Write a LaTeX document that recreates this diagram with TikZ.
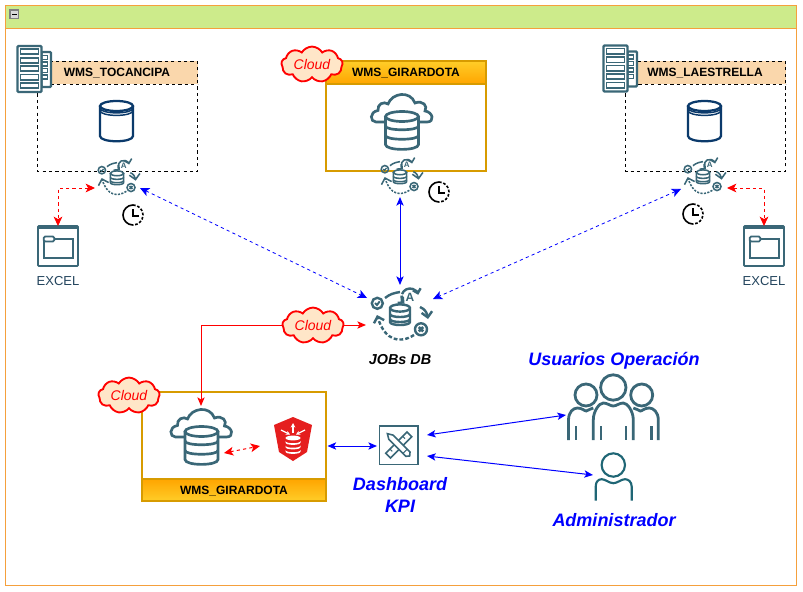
\documentclass[tikz,border=0pt]{standalone}
\usepackage{fontspec}
\setmainfont{Liberation Sans}
\usetikzlibrary{arrows.meta,shapes.symbols,calc}
\definecolor{panelline}{HTML}{F5A03C}
\definecolor{panelhead}{HTML}{CDEB8B}
\definecolor{headpeach}{HTML}{FAD7AC}
\definecolor{goldline}{HTML}{D79B00}
\definecolor{goldtop}{HTML}{FFCD28}
\definecolor{goldbot}{HTML}{FFA500}
\definecolor{cloudfill}{HTML}{FFE6C8}
\definecolor{icon}{HTML}{3A6777}
\definecolor{navy}{HTML}{0B3A6B}
\definecolor{teal2}{HTML}{1F6675}
\definecolor{excelblue}{HTML}{23445D}
\definecolor{shield}{HTML}{E51E1E}
\tikzset{
  every node/.append style={inner sep=0pt},
  reddash/.style={draw=red,line width=.75pt,dash pattern=on 2.4pt off 2.4pt,{Stealth[length=7pt,width=6.5pt,inset=1.8pt]}-{Stealth[length=7pt,width=6.5pt,inset=1.8pt]}},
  bluedash/.style={draw=blue,line width=.6pt,dash pattern=on 2.4pt off 2.4pt,{Stealth[length=7pt,width=6.5pt,inset=1.8pt]}-{Stealth[length=7pt,width=6.5pt,inset=1.8pt]}},
  bluesolid/.style={draw=blue,line width=.75pt,{Stealth[length=6.5pt,width=5.5pt,inset=1.6pt]}-{Stealth[length=6.5pt,width=5.5pt,inset=1.6pt]}},
  redsolid/.style={draw=red,line width=.75pt,{Stealth[length=6.5pt,width=5.5pt,inset=1.6pt]}-{Stealth[length=6.5pt,width=5.5pt,inset=1.6pt]}},
  dashbox/.style={draw=black,line width=.75pt,dash pattern=on 2.4pt off 2.4pt},
  goldbox/.style={draw=goldline,line width=1.5pt},
  title/.style={font=\bfseries\fontsize{9pt}{10pt}\selectfont,text=black},
  bluetitle/.style={font=\bfseries\itshape\fontsize{13.5pt}{16.5pt}\selectfont,text=blue,align=center},
  cloudnote/.style={cloud,cloud puffs=9,cloud puff arc=120,aspect=1.9,draw=red,fill=cloudfill,line width=1.4pt,minimum width=46pt,minimum height=25pt,text=red,font=\itshape\fontsize{10.5pt}{12pt}\selectfont},
  pics/jobicon/.style n args={3}{code={
    \begin{scope}[draw=icon,line width=#1,line cap=butt]
      \draw (-22.7,-11.7) circle[radius=5.5];
      \draw[line width=.8*#1] (-25,-12) -- (-23,-10) -- (-20.3,-13.6);
      \draw (21,14.3) circle[radius=6];
      \draw[line width=1.1*#1] (18.8,12.1) -- (23.2,16.5) (18.8,16.5) -- (23.2,12.1);
      \draw[-{Straight Barb[length=3pt,width=6pt]}] (10,-18) ++(200:8.5) arc[start angle=200,end angle=345,radius=8.5];
      \draw[-{Straight Barb[length=3pt,width=6pt]}] (10,-18) ++(190:8.5) arc[start angle=190,end angle=130,radius=8.5];
      \node[transform shape,text=icon,font=\bfseries\fontsize{9pt}{9pt}\selectfont] at (10,-18) {A};
      \draw (-15,-17) .. controls (-10,-21) and (-6,-22) .. (0,-23);
      \draw[-{Straight Barb[length=4pt,width=8pt]}] (20,-8) .. controls (25,-6) and (27,-2) .. (28,4);
      \draw[dash pattern=on #2 off #3,-{Straight Barb[length=4pt,width=8pt]}] (14,20) .. controls (0,29) and (-15,26) .. (-23,0);
      \draw[fill=white] (-10,-6) -- (-10,7) .. controls (-10,11) and (10,11) .. (10,7) -- (10,-6);
      \draw[fill=white] (0,-7) ellipse[x radius=10,y radius=3.6];
      \draw (-10,-1) .. controls (-10,3) and (10,3) .. (10,-1);
      \draw (-10,4) .. controls (-10,8) and (10,8) .. (10,4);
    \end{scope}
  }},
  pics/clockicon/.style={code={
    \draw[black,line width=1.2pt] (0,-10) arc[start angle=-90,end angle=-270,radius=10];
    \draw[black,line width=1.2pt,dash pattern=on 2pt off 1.3pt] (0,-10) arc[start angle=-90,end angle=90,radius=10];
    \draw[black,line width=.9pt] (0,-6) -- (0,1) -- (6,1);
  }},
  pics/servericon/.style={code={
    \begin{scope}[draw=icon,line width=1.7pt]
      \draw[fill=white,rounded corners=.8pt] (24,6) rectangle (33.5,41);
      \foreach \yy in {9.5,16,22.5,29} \draw[line width=1.2pt] (24,\yy) rectangle (30,{\yy+4});
      \draw[fill=white,rounded corners=.8pt] (0,0) rectangle (24,46);
      \foreach \yy in {3,11.7,20,28.5,37} {
        \draw[line width=1.3pt,fill=white] (3,\yy) rectangle (21,{\yy+5.2});
      }
    \end{scope}
  }},
  pics/cylicon/.style={code={
    \begin{scope}[draw=navy,line width=1.7pt]
      \draw (-16.5,-15) -- (-16.5,15) .. controls (-16.5,22) and (16.5,22) .. (16.5,15) -- (16.5,-15);
      \draw (0,-15) ellipse[x radius=16.5,y radius=5];
      \draw[line width=1.1pt] (-16.5,-13) .. controls (-16.5,-6.5) and (16.5,-6.5) .. (16.5,-13);
      \draw[line width=1.1pt] (-16.5,-10.5) .. controls (-16.5,-4) and (16.5,-4) .. (16.5,-10.5);
    \end{scope}
  }},
  pics/excelicon/.style={code={
    \begin{scope}[draw=icon,line width=1.3pt]
      \draw[rounded corners=.6pt] (0,0) rectangle (40,40);
      \fill[icon] (0,-.5) rectangle (40,3);
      \draw (5.7,13) rectangle (34.7,32);
      \draw[fill=white,rounded corners=1pt] (5.7,10.5) rectangle (16.3,15.5);
    \end{scope}
  }},
  pics/dbcloudicon/.style={code={
    \begin{scope}[draw=icon,line width=2pt]
      \draw (-17.5,1) -- (-26,1) .. controls (-32,1) and (-33,-9) .. (-24,-10.5)
        .. controls (-25,-17) and (-18,-20) .. (-14,-17)
        .. controls (-10,-28) and (8,-31) .. (13,-18)
        .. controls (21,-21) and (26,-15) .. (23,-10)
        .. controls (31,-9) and (33,1) .. (25,1) -- (17,1);
      \draw (-16.5,-4.5) -- (-16.5,23.5) .. controls (-16.5,30) and (16.5,30) .. (16.5,23.5) -- (16.5,-4.5);
      \draw (0,-4.5) ellipse[x radius=16.5,y radius=5];
      \draw (-16.5,5) .. controls (-16.5,10) and (16.5,10) .. (16.5,5);
      \draw (-16.5,14.5) .. controls (-16.5,19.5) and (16.5,19.5) .. (16.5,14.5);
    \end{scope}
  }},
  pics/shieldicon/.style={code={
    \fill[shield] (-19,-14) -- (0,-22) -- (19,-14) -- (14,13) -- (0,22) -- (-14,13) -- cycle;
    \begin{scope}[white]
      \draw[line width=1pt,-{Stealth[length=3.5pt,width=3.5pt]}] (0,-6) -- (0,-16);
      \draw[line width=.9pt,{Stealth[length=3pt,width=3pt]}-] (-3,-4.5) -- (-12,-9);
      \draw[line width=.9pt,{Stealth[length=3pt,width=3pt]}-] (3,-4.5) -- (12,-9);
      \fill (0,-1) ellipse[x radius=7.5,y radius=2.4];
      \fill (-7.5,2) .. controls (-7.5,5) and (7.5,5) .. (7.5,2) -- (7.5,3.6) .. controls (7.5,6.6) and (-7.5,6.6) .. (-7.5,3.6) -- cycle;
      \fill (-7.5,6.5) .. controls (-7.5,9.5) and (7.5,9.5) .. (7.5,6.5) -- (7.5,8.1) .. controls (7.5,11.1) and (-7.5,11.1) .. (-7.5,8.1) -- cycle;
      \fill (-7.5,11) .. controls (-7.5,14) and (7.5,14) .. (7.5,11) -- (7.5,12.6) .. controls (7.5,15.6) and (-7.5,15.6) .. (-7.5,12.6) -- cycle;
    \end{scope}
  }},
  pics/kpiicon/.style={code={
    \begin{scope}[draw=icon,line width=1.2pt]
      \draw (-19.3,-19.3) rectangle (19.3,19.3);
      \begin{scope}[rotate=45]
        \draw (-15,-3.4) rectangle (15,3.4);
        \foreach \xx in {-9,9} \draw[line width=.8pt] (\xx,-3.4) -- (\xx,0);
      \end{scope}
      \begin{scope}[rotate=-45]
        \draw[fill=white] (-11,-3) -- (13,-3) -- (15.5,0) -- (13,3) -- (-11,3) -- (-16,0) -- cycle;
        \draw[line width=.8pt] (9,-3) -- (9,3);
      \end{scope}
    \end{scope}
  }},
  pics/groupicon/.style={code={
    \begin{scope}[draw=icon,line width=2.1pt]
      \draw (0,-12.5) circle[radius=12.7];
      \draw (-27.3,-5) circle[radius=11];
      \draw (28.4,-5) circle[radius=11];
      \draw (-44.8,40) -- (-44.8,20) .. controls (-44.8,12) and (-40,8) .. (-36,8) .. controls (-31,8) and (-29,11) .. (-27,11) .. controls (-25,11) and (-23,8) .. (-20,8);
      \draw (45,40) -- (45,20) .. controls (45,12) and (40,8) .. (36,8) .. controls (31,8) and (29,11) .. (27,11) .. controls (25,11) and (23,8) .. (20,8);
      \draw (-20,40) -- (-20,20) .. controls (-20,11) and (-14,3) .. (-10,3) .. controls (-6,3) and (-3,6) .. (0,6) .. controls (3,6) and (6,3) .. (10,3) .. controls (14,3) and (20,11) .. (20,20) -- (20,40);
      \foreach \xx in {-37.3,-12.3,12.7,38.4} \draw (\xx,26) -- (\xx,40);
    \end{scope}
  }},
  pics/adminicon/.style={code={
    \begin{scope}[draw=teal2,line width=1.6pt]
      \draw (0,-11.7) circle[radius=11.7];
      \draw (-17.6,24) -- (-17.6,10) .. controls (-17.6,5) and (-15,2.5) .. (-11.6,2.5) .. controls (-8,2.5) and (-4,6.5) .. (0,6.5) .. controls (4,6.5) and (8,2.5) .. (11.7,2.5) .. controls (15,2.5) and (18.4,5) .. (18.4,10) -- (18.4,24);
    \end{scope}
  }}
}
\begin{document}
\begin{tikzpicture}[x=0.75pt,y=-0.75pt]
\useasboundingbox (0,0) rectangle (803,592);
\fill[white] (0,0) rectangle (803,592);
% panel
\draw[panelline,line width=.75pt] (5.5,5.5) rectangle (796.5,585.5);
\draw[panelline,line width=.75pt,fill=panelhead] (5.5,5.5) rectangle (796.5,28.5);
\draw[gray,fill=gray!30,line width=.9pt] (10,10) rectangle (18.5,18.5);
\draw[black,line width=1pt] (12,14.3) -- (16.5,14.3);

% Tocancipa
\fill[headpeach] (37.5,61.5) rectangle (197.5,84.5);
\draw[dashbox] (37.5,61.5) rectangle (197.5,171.5);
\draw[dashbox] (37.5,84.5) -- (197.5,84.5);
\node[title] (tocancipa) at (117,73.5) {WMS\_TOCANCIPA};
\pic at (17.5,46) {servericon};
\pic at (116.5,121) {cylicon};

% Laestrella
\fill[headpeach] (625.5,61.5) rectangle (785.5,84.5);
\draw[dashbox] (625.5,61.5) rectangle (785.5,171.5);
\draw[dashbox] (625.5,84.5) -- (785.5,84.5);
\node[title] (laestrella) at (705,73.5) {WMS\_LAESTRELLA};
\pic at (603.5,45.5) {servericon};
\pic at (704.5,121) {cylicon};

% Girardota top
\draw[goldbox] (326,61) rectangle (486,171);
\shade[top color=goldtop,bottom color=goldbot,draw=goldline,line width=1.5pt] (326,61) rectangle (486,84);
\node[title] (girtop) at (406,73.5) {WMS\_GIRARDOTA};
\pic at (402,121) {dbcloudicon};

% Girardota bottom
\draw[goldbox] (142,392) rectangle (326,501);
\shade[top color=goldbot,bottom color=goldtop,draw=goldline,line width=1.5pt] (142,479) rectangle (326,501);
\node[title] (girbot) at (234,491) {WMS\_GIRARDOTA};
\pic at (201.5,436) {dbcloudicon};
\pic at (293,439) {shieldicon};

% Job icons
\pic[scale=.667] at (117,178) {jobicon={1.15pt}{1.6pt}{1pt}};
\pic[scale=.667] at (400,177) {jobicon={1.15pt}{1.6pt}{1pt}};
\pic[scale=.667] at (703,177) {jobicon={1.15pt}{1.6pt}{1pt}};
\pic at (400,315) {jobicon={1.8pt}{2.8pt}{1.6pt}};
\pic at (133,215) {clockicon};
\pic at (439,192) {clockicon};
\pic at (693,214) {clockicon};

% Excel
\pic at (38,226) {excelicon};
\pic at (744,226) {excelicon};
\node[text=excelblue,font=\fontsize{9.75pt}{11pt}\selectfont] (excelL) at (58,281) {EXCEL};
\node[text=excelblue,font=\fontsize{9.75pt}{11pt}\selectfont] (excelR) at (764,281) {EXCEL};

% KPI and people
\pic at (398.7,445) {kpiicon};
\pic at (613.3,400) {groupicon};
\pic at (613.3,476.7) {adminicon};

% Connector ends
\coordinate (jl1) at (95,188);   \coordinate (jlc) at (58,188);   \coordinate (xl) at (58,226);
\coordinate (jr1) at (727,188);  \coordinate (jrc) at (764,188);  \coordinate (xr) at (764,226);
\coordinate (jl2) at (140,188);  \coordinate (hubl) at (367,298);
\coordinate (jr2) at (681,189);  \coordinate (hubr) at (433,299);
\coordinate (jt) at (400,197);   \coordinate (hubt) at (400,285);
\coordinate (hubw) at (366,325); \coordinate (rc) at (201,325);   \coordinate (dbb) at (201,406);
\coordinate (db1) at (224,453);  \coordinate (sh1) at (260,446);
\coordinate (boxr) at (327.5,446); \coordinate (kpil) at (377,446);
\coordinate (kpi1) at (427,435); \coordinate (grp) at (566,415);
\coordinate (kpi2) at (427,456); \coordinate (adm) at (593,475);

\draw[reddash] (jl1) -- (jlc) -- (xl);
\draw[reddash] (jr1) -- (jrc) -- (xr);
\draw[bluedash] (jl2) -- (hubl);
\draw[bluedash] (jr2) -- (hubr);
\draw[bluesolid] (jt) -- (hubt);
\draw[redsolid] (dbb) -- (rc) -- (hubw);
\draw[reddash] (db1) -- (sh1);
\draw[bluesolid] (boxr) -- (kpil);
\draw[bluesolid] (kpi1) -- (grp);
\draw[bluesolid] (kpi2) -- (adm);

% Clouds
\node[cloudnote] (cloudA) at (312,64.5) {Cloud};
\node[cloudnote] (cloudB) at (313,325.5) {Cloud};
\node[cloudnote] (cloudC) at (129,395.5) {Cloud};

% Labels
\node[font=\bfseries\itshape\fontsize{10.8pt}{12pt}\selectfont,text=black] (jobs) at (400,360) {JOBs DB};
\node[bluetitle] (usuarios) at (614,360.5) {Usuarios Operación};
\node[bluetitle] (dash) at (400,495) {Dashboard\\KPI};
\node[bluetitle] (admin) at (614,520) {Administrador};
\end{tikzpicture}
\end{document}
